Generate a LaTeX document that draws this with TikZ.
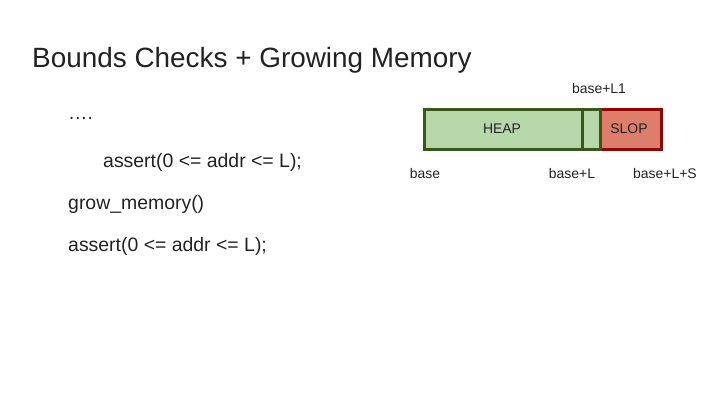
\documentclass[tikz,border=0pt]{standalone}
\usepackage{fontspec}
\setmainfont{Liberation Sans}
\definecolor{HeapFill}{HTML}{B6D7A8}
\definecolor{HeapLine}{HTML}{38571A}
\definecolor{SlopFill}{HTML}{DD7E6B}
\definecolor{SlopLine}{HTML}{990000}
\definecolor{TextGrey}{HTML}{222222}
\usetikzlibrary{positioning}

\begin{document}
\begin{tikzpicture}[x=1bp,y=-1bp,
    text=TextGrey,
    code/.style={anchor=west,inner sep=0pt,font=\fontsize{19.5}{23}\selectfont},
    mark label/.style={font=\fontsize{14}{16}\selectfont},
    heapbox/.style={draw=HeapLine,fill=HeapFill,line width=3bp},
    slopbox/.style={draw=SlopLine,fill=SlopFill,line width=3bp}]
    \useasboundingbox (0,0) rectangle (720,405);

    \node[name=title,anchor=west,inner sep=0pt,font=\fontsize{28}{32}\selectfont] at (32,60)
      {Bounds Checks + Growing Memory};

    \node[name=dots,code] at (68,118) {….};
    \node[name=check1,code] at (103,162) {assert(0 <= addr <= L);};
    \node[name=grow,code] at (68,204) {grow\_memory()};
    \node[name=check2,code] at (68,246) {assert(0 <= addr <= L);};

    % memory layout
    \draw[slopbox] (600,109) rectangle (661,149);
    \draw[heapbox] (424,109) rectangle (582,149);
    \draw[heapbox] (582,109) rectangle (600,149);
    \node[name=heap,mark label] at (502,129) {HEAP};
    \node[name=slop,mark label] at (629,129) {SLOP};

    \node[name=base,mark label] at (425,174) {base};
    \node[name=baseL,mark label] at (572,174) {base+L};
    \node[name=baseLS,mark label] at (665,174) {base+L+S};
    \node[name=baseL1,mark label] at (599,89) {base+L1};
\end{tikzpicture}
\end{document}
